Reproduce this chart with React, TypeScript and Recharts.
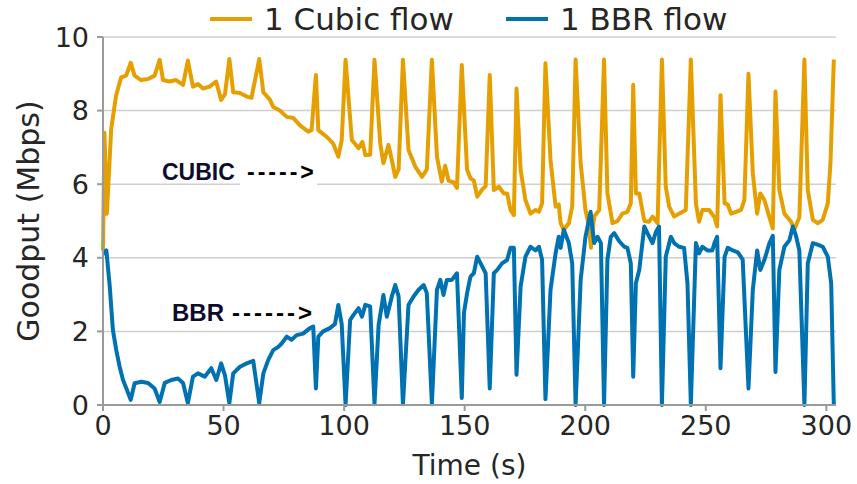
import { LineChart, Line, XAxis, YAxis, CartesianGrid } from "recharts";

// tick labels
const xTicks = [0, 50, 100, 150, 200, 250, 300];
const yTicks = [0, 2, 4, 6, 8, 10];

// 1 Cubic flow: time (s) and goodput (Mbps)
const cubicTime = [
  0, 0.6, 1.6, 3.4, 5.4, 7.5, 9.6, 11.5, 13.1, 15.8, 18.7, 21.4, 23.5, 24.9, 27.6, 30.3, 33.2, 35.2, 37.3, 39.4,
  41.5, 44.2, 46.9, 49.0, 50.6, 52.4, 54.0, 56.8, 59.6, 61.6, 64.8, 66.5, 69.2, 70.6, 73.4, 76.2, 78.9, 81.7, 85.1, 86.5,
  88.3, 89.3, 92.7, 95.5, 97.6, 99.0, 100.6, 103.2, 106.0, 107.6, 108.8, 110.8, 112.6, 115.0, 116.3, 118.4, 119.8, 121.2, 122.6, 124.4,
  126.7, 129.5, 132.3, 134.3, 136.4, 138.5, 140.5, 141.9, 143.3, 145.4, 146.8, 148.8, 151.0, 152.4, 153.8, 155.2, 157.3, 158.7, 160.4, 162.1,
  164.2, 166.2, 167.6, 169.0, 170.4, 171.5, 173.2, 175.2, 177.3, 179.4, 180.8, 182.1, 183.5, 185.6, 187.7, 189.0, 189.8, 191.1, 193.2, 194.6,
  196.0, 198.1, 200.1, 201.4, 202.4, 203.7, 205.8, 207.8, 209.2, 211.3, 213.4, 215.4, 217.5, 218.9, 219.9, 221.0, 222.4, 224.5, 226.5, 227.9,
  230.0, 231.8, 233.4, 234.8, 236.9, 238.9, 241.7, 243.8, 245.9, 247.2, 248.6, 251.4, 253.6, 254.7, 256.1, 257.8, 259.1, 260.5, 262.6, 264.6,
  266.0, 267.7, 269.5, 271.3, 272.6, 274.3, 276.4, 277.8, 278.9, 280.5, 282.6, 285.4, 286.7, 288.8, 290.9, 292.3, 294.4, 296.4, 298.5, 300.6,
  301.7, 303.1,
];
const cubicGoodput = [
  4.2, 7.4, 5.2, 7.5, 8.4, 8.9, 8.95, 9.3, 8.95, 8.83, 8.86, 8.95, 9.38, 8.83, 8.79, 8.83, 8.7, 9.36, 8.65, 8.72,
  8.6, 8.65, 8.79, 8.29, 8.45, 9.4, 8.5, 8.48, 8.38, 8.35, 9.4, 8.5, 8.3, 8.1, 8.0, 7.83, 7.8, 7.6, 7.43, 7.47,
  8.97, 7.47, 7.29, 7.1, 6.75, 7.2, 9.38, 7.2, 6.98, 7.15, 6.79, 6.8, 9.38, 7.1, 6.57, 7.07, 6.65, 6.2, 6.4, 9.38,
  6.93, 6.48, 6.2, 6.4, 9.38, 6.75, 6.07, 6.5, 6.1, 6.05, 5.9, 9.24, 6.39, 6.16, 6.1, 5.66, 5.86, 5.95, 8.97, 5.84,
  5.93, 5.75, 5.75, 5.3, 5.16, 8.6, 6.39, 5.57, 5.2, 5.3, 5.25, 5.48, 9.29, 6.66, 5.39, 5.45, 4.94, 4.76, 4.94, 5.4,
  9.39, 6.57, 5.3, 4.9, 4.27, 5.12, 5.3, 9.39, 5.75, 4.94, 5.0, 5.2, 5.25, 5.48, 8.7, 5.75, 5.75, 5.0, 4.98, 5.12,
  4.94, 9.39, 5.93, 5.39, 5.12, 5.2, 5.3, 9.39, 5.48, 4.98, 5.3, 5.3, 5.1, 4.85, 8.42, 5.48, 5.45, 5.2, 5.25, 5.3,
  5.57, 9.0, 6.3, 5.2, 5.75, 5.57, 5.1, 4.8, 8.52, 5.84, 5.2, 4.98, 4.76, 5.1, 9.39, 5.84, 5.03, 4.94, 5.03, 5.48,
  6.57, 9.39,
];

// 1 BBR flow: time (s) and goodput (Mbps)
const bbrTime = [
  0, 1.4, 2.8, 4.1, 5.5, 6.9, 8.3, 9.7, 11.5, 13.1, 15.9, 18.7, 21.4, 23.5, 25.6, 28.3, 31.1, 33.2, 35.2, 37.3,
  39.4, 42.2, 44.9, 47.0, 49.0, 50.6, 52.4, 54.0, 56.8, 59.6, 62.3, 64.8, 66.5, 68.5, 70.6, 72.7, 74.1, 76.2, 78.2, 80.3,
  83.0, 85.8, 87.2, 88.3, 89.3, 91.3, 94.1, 96.2, 97.6, 99.0, 100.6, 102.5, 103.9, 106.0, 107.4, 108.8, 110.8, 112.6, 114.3, 116.3,
  117.7, 119.8, 121.2, 122.6, 124.4, 126.7, 128.8, 130.9, 133.0, 134.3, 136.4, 138.5, 139.9, 141.2, 142.6, 144.7, 146.8, 148.8, 149.7, 151.0,
  152.4, 153.8, 155.2, 157.3, 158.7, 160.4, 162.1, 163.5, 165.5, 167.6, 169.0, 170.4, 171.5, 173.2, 175.2, 177.3, 179.4, 180.8, 182.1, 183.5,
  185.6, 187.7, 189.0, 189.8, 191.1, 193.2, 194.6, 196.0, 198.1, 200.1, 202.2, 203.7, 205.1, 206.5, 207.8, 209.2, 210.6, 212.0, 214.1, 216.2,
  217.5, 218.9, 219.9, 221.0, 222.4, 224.5, 225.8, 227.9, 229.3, 230.6, 231.8, 233.4, 235.5, 236.9, 238.9, 241.0, 242.4, 243.8, 245.9, 247.2,
  248.6, 250.7, 252.7, 253.6, 254.7, 256.1, 257.8, 259.1, 261.2, 263.3, 265.3, 267.7, 269.5, 271.3, 272.6, 274.3, 276.4, 277.8, 278.9, 280.5,
  282.6, 284.7, 286.1, 287.4, 288.8, 290.9, 292.3, 294.4, 296.4, 298.5, 300.6, 302.0, 303.1,
];
const bbrGoodput = [
  4.1, 4.2, 3.22, 2.04, 1.49, 1.04, 0.68, 0.45, 0.14, 0.59, 0.63, 0.6, 0.45, 0.08, 0.6, 0.68, 0.72, 0.6, 0.05, 0.77,
  0.86, 0.77, 1.0, 0.68, 1.13, 0.8, 0.05, 0.86, 1.04, 1.13, 1.2, 0.05, 0.86, 1.22, 1.49, 1.58, 1.67, 1.86, 1.77, 1.9,
  1.94, 2.09, 2.13, 0.45, 1.86, 2.0, 2.09, 2.2, 2.72, 2.2, 0.0, 2.31, 2.45, 2.63, 2.4, 2.72, 2.68, 0.02, 2.17, 2.99,
  2.4, 2.95, 3.26, 2.95, 0.02, 2.72, 2.95, 3.13, 3.26, 3.04, 0.02, 3.13, 3.4, 2.99, 3.4, 3.4, 3.58, 0.19, 2.5, 3.04,
  3.49, 3.58, 4.03, 3.76, 3.58, 0.45, 3.58, 3.67, 3.85, 3.94, 4.27, 4.27, 0.82, 3.22, 4.03, 4.3, 4.2, 4.3, 3.95, 0.16,
  3.13, 4.12, 4.57, 4.27, 4.76, 4.4, 3.85, 0.0, 3.4, 4.57, 5.25, 4.4, 4.57, 4.4, 0.0, 3.95, 4.57, 4.67, 4.45, 4.3,
  4.27, 3.85, 0.77, 3.31, 3.67, 4.85, 4.67, 4.4, 4.7, 4.85, 0.0, 4.03, 4.57, 4.4, 4.3, 4.27, 3.31, 0.0, 4.4, 4.12,
  4.3, 4.2, 4.2, 4.4, 4.57, 1.0, 4.03, 4.27, 4.2, 4.15, 3.95, 0.45, 3.13, 4.2, 3.67, 3.94, 4.4, 4.6, 0.9, 3.67,
  4.3, 4.48, 4.85, 4.6, 4.2, 0.0, 3.85, 4.4, 4.36, 4.3, 4.03, 3.31, 0.0,
];

const cubicData = cubicTime.map((t, i) => ({ time: t, goodput: cubicGoodput[i] }));
const bbrData = bbrTime.map((t, i) => ({ time: t, goodput: bbrGoodput[i] }));

const FONT = "'DejaVu Sans', sans-serif";
const NOTE_FONT = "'Liberation Sans', sans-serif";
const TEXT = "#262626";
const AXIS = "#9a9a9a";
const CUBIC = "#E69F00";
const BBR = "#0072B2";

function LegendItem({ color, label, gap }: { color: string; label: string; gap: number }) {
  return (
    <div style={{ display: "flex", alignItems: "center", marginRight: gap }}>
      <div style={{ width: 42, height: 4, background: color, marginRight: 12 }} />
      <span>{label}</span>
    </div>
  );
}

export default function App() {
  return (
    <div style={{ position: "absolute", left: 0, top: 0, width: 857, height: 484, background: "#fff", fontFamily: FONT }}>
      <LineChart width={857} height={484} data={cubicData} margin={{ top: 37, right: 21, left: 0, bottom: 0 }}>
        <CartesianGrid vertical={false} stroke="#cfcfcf" strokeWidth={1.5} />
        <XAxis
          dataKey="time"
          type="number"
          domain={[0, 304]}
          ticks={xTicks}
          height={79}
          stroke={AXIS}
          strokeWidth={2}
          tickSize={6}
          tickMargin={5}
          tick={{ fill: TEXT, fontSize: 27, fontFamily: FONT }}
          label={{ value: "Time (s)", position: "insideBottom", offset: 9, fill: TEXT, fontSize: 28, fontFamily: FONT }}
        />
        <YAxis
          type="number"
          domain={[0, 10]}
          ticks={yTicks}
          width={103}
          stroke={AXIS}
          strokeWidth={2}
          tickSize={6}
          tickMargin={8}
          tick={{ fill: TEXT, fontSize: 27, fontFamily: FONT }}
          label={{
            value: "Goodput (Mbps)",
            angle: -90,
            position: "insideLeft",
            offset: 28,
            fill: TEXT,
            fontSize: 30,
            fontFamily: FONT,
            style: { textAnchor: "middle" },
          }}
        />
        <Line
          data={cubicData}
          dataKey="goodput"
          type="linear"
          stroke={CUBIC}
          strokeWidth={4}
          strokeLinejoin="round"
          dot={false}
          isAnimationActive={false}
        />
        <Line
          data={bbrData}
          dataKey="goodput"
          type="linear"
          stroke={BBR}
          strokeWidth={4}
          strokeLinejoin="round"
          dot={false}
          isAnimationActive={false}
        />
      </LineChart>

      <div
        style={{
          position: "absolute",
          left: 210,
          top: 1,
          display: "flex",
          fontSize: 31,
          color: TEXT,
          lineHeight: "36px",
        }}
      >
        <LegendItem color={CUBIC} label="1 Cubic flow" gap={52} />
        <LegendItem color={BBR} label="1 BBR flow" gap={0} />
      </div>

      <svg width={857} height={484} style={{ position: "absolute", left: 0, top: 0, pointerEvents: "none" }}>
        <rect x={240} y={160} width={77} height={30} fill="#fff" />
        <text x={162} y={180} fontFamily={NOTE_FONT} fontWeight="bold" fontSize={23} fill="#0d0d2b">
          CUBIC
        </text>
        <text x={247} y={180} fontFamily={NOTE_FONT} fontWeight="bold" fontSize={23} fill="#000" letterSpacing={3}>
          -----&gt;
        </text>
        <text x={172} y={321} fontFamily={NOTE_FONT} fontWeight="bold" fontSize={24} fill="#0d0d2b">
          BBR
        </text>
        <text x={232} y={321} fontFamily={NOTE_FONT} fontWeight="bold" fontSize={24} fill="#000" letterSpacing={3}>
          ------&gt;
        </text>
      </svg>
    </div>
  );
}
